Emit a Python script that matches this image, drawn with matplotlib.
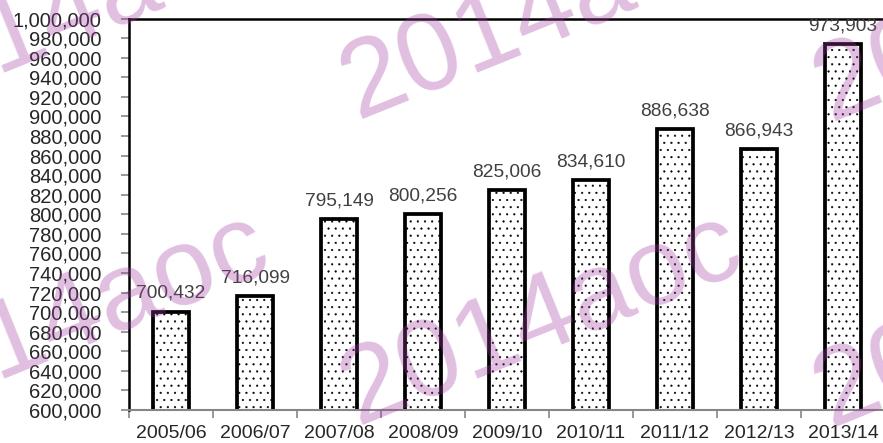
import matplotlib
matplotlib.use("Agg")
import matplotlib.pyplot as plt
import matplotlib.hatch as mhatch
from matplotlib.ticker import FuncFormatter, MultipleLocator
import numpy as np

categories = ["2005/06", "2006/07", "2007/08", "2008/09", "2009/10",
              "2010/11", "2011/12", "2012/13", "2013/14"]
values = [700432, 716099, 795149, 800256, 825006, 834610, 886638, 866943, 973903]
watermark = "2014aoc"


# finer dot hatch (about 7 px spacing)
class _FineDots(mhatch.Circles):
    size = 0.12
    filled = True

    def __init__(self, hatch, density):
        self.num_rows = 14 if hatch.count('.') else 0
        super().__init__(hatch, density)


mhatch._hatch_types = [(_FineDots if t is mhatch.SmallFilledCircles else t)
                       for t in mhatch._hatch_types]

plt.rcParams['font.family'] = ['Liberation Sans', 'DejaVu Sans']
plt.rcParams['hatch.linewidth'] = 0.3

W, H = 883, 443
fig = plt.figure(figsize=(W / 100, H / 100), dpi=100)
left, right, top, bottom = 129, 885, 18.5, 410
ax = fig.add_axes([left / W, 1 - bottom / H, (right - left) / W, (bottom - top) / H])

x = np.arange(len(categories))
ax.bar(x, values, width=0.43, bottom=0, color='white', edgecolor='black',
       linewidth=2.7, hatch='.', zorder=2)
for xi, v in zip(x, values):
    ax.annotate(f"{v:,}", (xi, v), xytext=(0, 7), textcoords='offset points',
                ha='center', va='bottom', fontsize=13.8, color='#404040', zorder=5)

ax.set_ylim(600000, 1000000)
ax.set_xlim(-0.5, len(categories) - 0.5)
ax.yaxis.set_major_locator(MultipleLocator(20000))
ax.yaxis.set_major_formatter(FuncFormatter(lambda v, p: f"{int(v):,}"))
ax.set_xticks(x)
ax.set_xticklabels(categories)
ax.set_xticks(np.arange(-0.5, len(categories), 1), minor=True)
ax.tick_params(axis='x', which='major', length=0, pad=10.5, labelsize=14, labelcolor='#262626')
ax.tick_params(axis='x', which='minor', length=6, width=1.2, color='#868686')
ax.tick_params(axis='y', length=6, width=1.2, color='#868686', pad=14,
               labelsize=14.5, labelcolor='#262626')

for s in ['top', 'left']:
    ax.spines[s].set_color('black')
    ax.spines[s].set_linewidth(1.8)
ax.spines['right'].set_visible(False)
ax.spines['bottom'].set_color('#868686')
ax.spines['bottom'].set_linewidth(1.5)

# watermark tiles
for (wx, wy) in [(-116, 119), (357, 119), (830, 121), (-116, 425), (357, 425), (830, 427)]:
    fig.text(wx / W, 1 - wy / H, watermark, fontsize=79, color='#a03ca0', alpha=0.33,
             rotation=22, rotation_mode='anchor', ha='left', va='baseline',
             family='Liberation Sans', zorder=10)

fig.savefig("out.png", dpi=100)
